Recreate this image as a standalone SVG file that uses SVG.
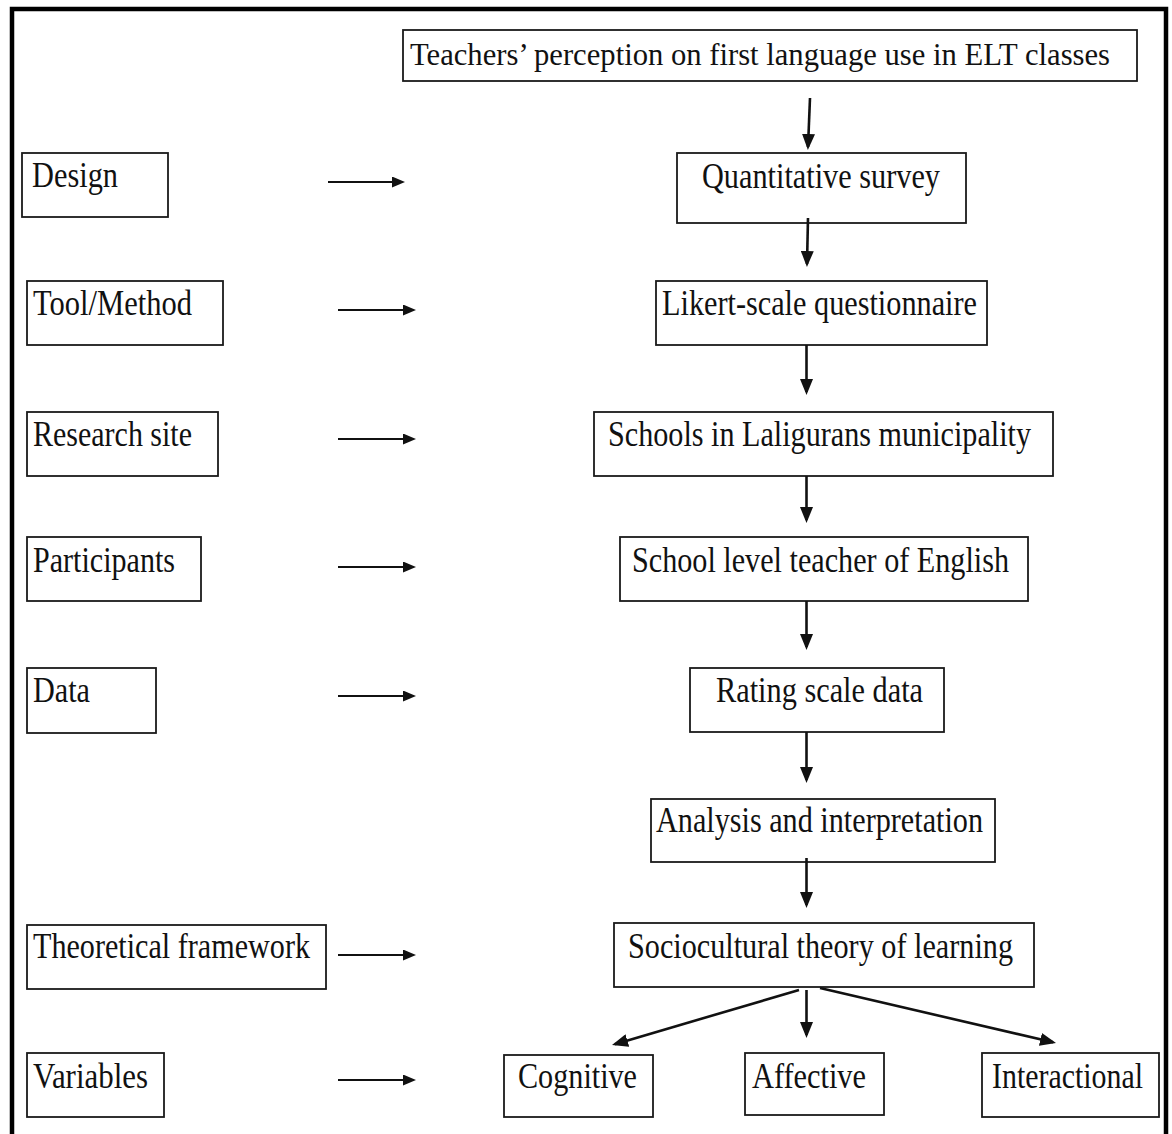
<svg xmlns="http://www.w3.org/2000/svg" width="1172" height="1134" viewBox="0 0 1172 1134">
<style>
.box{fill:#fff;stroke:#1a1a1a;stroke-width:1.8}
.lbl{font-family:"Liberation Serif","Times New Roman",serif;font-size:36px;fill:#111}
.ttl{font-size:32px}
.con{stroke:#111;stroke-width:2.6;fill:none}
.hcon{stroke:#111;stroke-width:2;fill:none}
</style>
<defs>
<marker id="ah" markerUnits="userSpaceOnUse" markerWidth="16" markerHeight="13" refX="13" refY="6.5" orient="auto">
<path d="M0,0 L16,6.5 L0,13 z" fill="#111"/>
</marker>
<marker id="ahs" markerUnits="userSpaceOnUse" markerWidth="13" markerHeight="11" refX="10" refY="5.5" orient="auto">
<path d="M0,0 L13,5.5 L0,11 z" fill="#111"/>
</marker>
</defs>
<rect x="0" y="0" width="1172" height="1134" fill="#fff"/>
<rect x="12" y="9" width="1154" height="1140" fill="none" stroke="#000" stroke-width="4.5"/>

<g id="n-title"><rect class="box" x="403" y="30" width="734" height="51"/><text class="lbl ttl" x="410" y="65" textLength="700" lengthAdjust="spacingAndGlyphs">Teachers’ perception on first language use in ELT classes</text></g>

<g id="n-design"><rect class="box" x="22" y="153" width="146" height="64"/><text class="lbl" x="32" y="187" textLength="86" lengthAdjust="spacingAndGlyphs">Design</text></g>
<g id="n-quant"><rect class="box" x="677" y="153" width="289" height="70"/><text class="lbl" x="702" y="188" textLength="238" lengthAdjust="spacingAndGlyphs">Quantitative survey</text></g>

<g id="n-tool"><rect class="box" x="27" y="281" width="196" height="64"/><text class="lbl" x="33" y="315" textLength="159" lengthAdjust="spacingAndGlyphs">Tool/Method</text></g>
<g id="n-likert"><rect class="box" x="656" y="281" width="331" height="64"/><text class="lbl" x="662" y="315" textLength="315" lengthAdjust="spacingAndGlyphs">Likert-scale questionnaire</text></g>

<g id="n-site"><rect class="box" x="27" y="412" width="191" height="64"/><text class="lbl" x="33" y="446" textLength="159" lengthAdjust="spacingAndGlyphs">Research site</text></g>
<g id="n-schools"><rect class="box" x="594" y="412" width="459" height="64"/><text class="lbl" x="608" y="446" textLength="423" lengthAdjust="spacingAndGlyphs">Schools in Laligurans municipality</text></g>

<g id="n-part"><rect class="box" x="27" y="537" width="174" height="64"/><text class="lbl" x="33" y="572" textLength="142" lengthAdjust="spacingAndGlyphs">Participants</text></g>
<g id="n-teacher"><rect class="box" x="620" y="537" width="408" height="64"/><text class="lbl" x="632" y="572" textLength="377" lengthAdjust="spacingAndGlyphs">School level teacher of English</text></g>

<g id="n-data"><rect class="box" x="27" y="668" width="129" height="65"/><text class="lbl" x="33" y="702" textLength="57" lengthAdjust="spacingAndGlyphs">Data</text></g>
<g id="n-rating"><rect class="box" x="690" y="668" width="254" height="64"/><text class="lbl" x="716" y="702" textLength="207" lengthAdjust="spacingAndGlyphs">Rating scale data</text></g>

<g id="n-analysis"><rect class="box" x="651" y="799" width="344" height="63"/><text class="lbl" x="656" y="832" textLength="327" lengthAdjust="spacingAndGlyphs">Analysis and interpretation</text></g>

<g id="n-theory"><rect class="box" x="27" y="925" width="299" height="64"/><text class="lbl" x="33" y="958" textLength="277" lengthAdjust="spacingAndGlyphs">Theoretical framework</text></g>
<g id="n-socio"><rect class="box" x="614" y="923" width="420" height="64"/><text class="lbl" x="628" y="958" textLength="385" lengthAdjust="spacingAndGlyphs">Sociocultural theory of learning</text></g>

<g id="n-vars"><rect class="box" x="27" y="1053" width="137" height="64"/><text class="lbl" x="33" y="1088" textLength="115" lengthAdjust="spacingAndGlyphs">Variables</text></g>
<g id="n-cog"><rect class="box" x="504" y="1055" width="149" height="62"/><text class="lbl" x="518" y="1088" textLength="119" lengthAdjust="spacingAndGlyphs">Cognitive</text></g>
<g id="n-aff"><rect class="box" x="745" y="1053" width="139" height="62"/><text class="lbl" x="752" y="1088" textLength="114" lengthAdjust="spacingAndGlyphs">Affective</text></g>
<g id="n-inter"><rect class="box" x="982" y="1053" width="177" height="64"/><text class="lbl" x="992" y="1088" textLength="151" lengthAdjust="spacingAndGlyphs">Interactional</text></g>

<g id="connectors">
<line class="con" x1="810" y1="98" x2="808" y2="147" marker-end="url(#ah)"/>
<line class="con" x1="808" y1="218" x2="807" y2="264" marker-end="url(#ah)"/>
<line class="con" x1="806.5" y1="345" x2="806.5" y2="392" marker-end="url(#ah)"/>
<line class="con" x1="806.5" y1="476" x2="806.5" y2="520" marker-end="url(#ah)"/>
<line class="con" x1="806.5" y1="601" x2="806.5" y2="647" marker-end="url(#ah)"/>
<line class="con" x1="806.5" y1="732" x2="806.5" y2="780" marker-end="url(#ah)"/>
<line class="con" x1="806.5" y1="858" x2="806.5" y2="905" marker-end="url(#ah)"/>
<line class="con" x1="799" y1="990" x2="614.9" y2="1044.2" marker-end="url(#ah)"/>
<line class="con" x1="806.5" y1="990" x2="806.5" y2="1035" marker-end="url(#ah)"/>
<line class="con" x1="820" y1="988" x2="1053.1" y2="1042.3" marker-end="url(#ah)"/>

<line class="hcon" x1="328" y1="182" x2="402" y2="182" marker-end="url(#ahs)"/>
<line class="hcon" x1="338" y1="310" x2="413" y2="310" marker-end="url(#ahs)"/>
<line class="hcon" x1="338" y1="439" x2="413" y2="439" marker-end="url(#ahs)"/>
<line class="hcon" x1="338" y1="567" x2="413" y2="567" marker-end="url(#ahs)"/>
<line class="hcon" x1="338" y1="696" x2="413" y2="696" marker-end="url(#ahs)"/>
<line class="hcon" x1="338" y1="955" x2="413" y2="955" marker-end="url(#ahs)"/>
<line class="hcon" x1="338" y1="1080" x2="413" y2="1080" marker-end="url(#ahs)"/>
</g>
</svg>
